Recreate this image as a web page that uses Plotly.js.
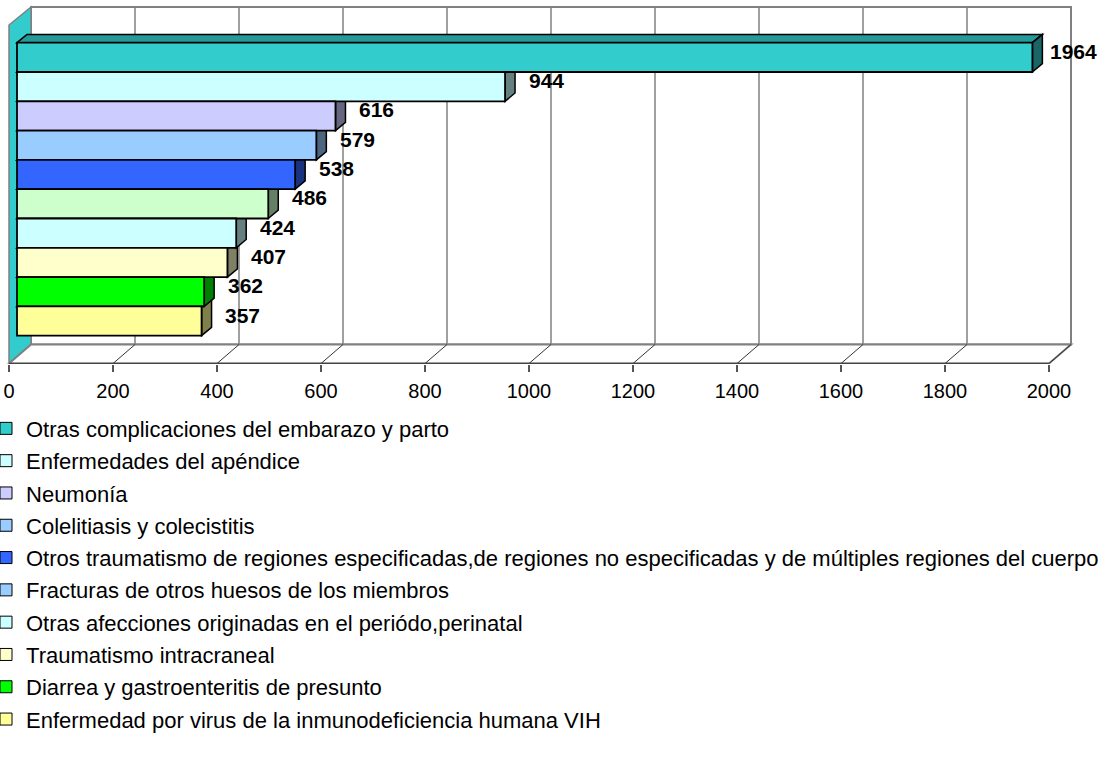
<!DOCTYPE html>
<html>
<head>
<meta charset="utf-8">
<script src="https://cdn.plot.ly/plotly-3.0.1.min.js"></script>
<style>html,body{margin:0;padding:0;background:#fff;}#chart{width:1107px;height:758px;}</style>
</head>
<body>
<div id="chart"></div>
<script>
// ---- data ----
const categories = [
  "Otras complicaciones del embarazo y parto",
  "Enfermedades del apéndice",
  "Neumonía",
  "Colelitiasis y colecistitis",
  "Otros traumatismo de regiones especificadas,de regiones no especificadas y de múltiples regiones del cuerpo",
  "Fracturas de otros huesos de los miembros",
  "Otras afecciones originadas en el periódo,perinatal",
  "Traumatismo intracraneal",
  "Diarrea y gastroenteritis de presunto",
  "Enfermedad por virus de la inmunodeficiencia humana VIH"
];
const values = [1964, 944, 616, 579, 538, 486, 424, 407, 362, 357];
const barColors = ["#33CCCC","#CCFFFF","#CCCCFF","#99CCFF","#3366FF","#CCFFCC","#CCFFFF","#FFFFCC","#00FF00","#FFFF99"];
const legendColors = ["#33CCCC","#CCFFFF","#CCCCFF","#99CCFF","#3366FF","#99CCFF","#CCFFFF","#FFFFCC","#00FF00","#FFFF99"];
const tickVals = [0,200,400,600,800,1000,1200,1400,1600,1800,2000];
const tickText = ["0","200","400","600","800","1000","1200","1400","1600","1800","2000"];

// ---- geometry (style) ----
const FONT = "Liberation Sans, Arial, sans-serif";
const L = 4, R = 1075, T = 4, B = 364;
const fx0 = 9, fk = 0.52;          // front axis pixel mapping
const bx0 = 17, bk = 0.517;        // bar plane pixel mapping
const rowTop = 57.35, rowH = 29.3; // row centers
const BX = 22 / fk;                // box depth in x units
const DX2 = 10 / bk, DYR = 8.3 / rowH; // bar depth
const Y = px => (px - rowTop) / rowH;
const rows = categories.map((c, i) => i);

function shade(hex, f) {
  const n = parseInt(hex.slice(1), 16);
  const r = Math.round(((n >> 16) & 255) * f), g = Math.round(((n >> 8) & 255) * f), b = Math.round((n & 255) * f);
  return "rgb(" + r + "," + g + "," + b + ")";
}

const shapes = [];
// back wall
shapes.push({type:"rect", xref:"x", yref:"y", x0:BX, x1:2000+BX, y0:Y(7), y1:Y(344.5),
  fillcolor:"#FFFFFF", line:{color:"#808080", width:2}, layer:"below"});
// back wall gridlines
tickVals.filter(v => v > 0 && v < 2000).forEach(v => shapes.push({type:"line", xref:"x", yref:"y",
  x0:v+BX, x1:v+BX, y0:Y(7), y1:Y(344.5), line:{color:"#808080", width:1.5}, layer:"below"}));
// left wall
shapes.push({type:"path", xref:"x", yref:"y",
  path:`M0,${Y(363.5)} L0,${Y(25)} L${BX},${Y(7)} L${BX},${Y(344.5)} Z`,
  fillcolor:"#33CCCC", line:{color:"#808080", width:1.5}, layer:"below"});
// floor
shapes.push({type:"path", xref:"x", yref:"y",
  path:`M0,${Y(363.5)} L2000,${Y(363.5)} L${2000+BX},${Y(344.5)} L${BX},${Y(344.5)} Z`,
  fillcolor:"#FFFFFF", line:{color:"#808080", width:2}, layer:"below"});
tickVals.filter(v => v > 0).forEach(v => shapes.push({type:"line", xref:"x", yref:"y",
  x0:v, x1:v+BX, y0:Y(363.5), y1:Y(344.5), line:{color:"#333333", width:1}, layer:"below"}));
shapes.push({type:"line", xref:"x", yref:"y", x0:0, x1:2000, y0:Y(363.5), y1:Y(363.5),
  line:{color:"#444444", width:1.5}, layer:"below"});

// bar depth faces (drawn from bottom row to top row)
for (let i = values.length - 1; i >= 0; i--) {
  const v = values[i], c = barColors[i], r = rows[i];
  shapes.push({type:"path", xref:"x2", yref:"y",
    path:`M0,${r-0.5} L${DX2},${r-0.5-DYR} L${v+DX2},${r-0.5-DYR} L${v},${r-0.5} Z`,
    fillcolor:shade(c,0.75), line:{color:"#000000", width:1.5}, layer:"below"});
  shapes.push({type:"path", xref:"x2", yref:"y",
    path:`M${v},${r-0.5} L${v+DX2},${r-0.5-DYR} L${v+DX2},${r+0.5-DYR} L${v},${r+0.5} Z`,
    fillcolor:shade(c,0.5), line:{color:"#000000", width:1.5}, layer:"below"});
}

const traces = [];
traces.push({type:"bar", orientation:"h", x:values, y:rows, xaxis:"x2", yaxis:"y", width:1,
  marker:{color:barColors, line:{color:"#000000", width:1.8}}, showlegend:false, hoverinfo:"skip"});
categories.forEach((c, i) => traces.push({type:"bar", orientation:"h", x:[null], y:[null],
  xaxis:"x", yaxis:"y", name:c, legendgroup:"g"+i,
  marker:{color:legendColors[i], line:{color:"#000000", width:1}}, hoverinfo:"skip"}));

const annotations = values.map((v, i) => ({xref:"x2", yref:"y", x:v, y:rows[i], text:String(v),
  showarrow:false, xanchor:"center", yanchor:"middle", xshift:41, yshift:6,
  font:{family:FONT, size:21, color:"#000000", weight:"bold"}}));

const layout = {
  width:1107, height:758,
  margin:{l:L, r:1107-R, t:T, b:758-B, pad:0, autoexpand:false},
  paper_bgcolor:"#FFFFFF", plot_bgcolor:"rgba(0,0,0,0)",
  font:{family:FONT, size:20, color:"#000000"},
  xaxis:{range:[(L-fx0)/fk, (R-fx0)/fk], tickvals:tickVals, ticktext:tickText, ticks:"outside",
    ticklen:7, tickwidth:1.5, tickcolor:"#555555", showgrid:false, zeroline:false, showline:false,
    ticklabelstandoff:2, tickfont:{family:FONT, size:20, color:"#000000"}, fixedrange:true},
  xaxis2:{overlaying:"x", range:[(L-bx0)/bk, (R-bx0)/bk], visible:false, fixedrange:true},
  yaxis:{range:[Y(B), Y(T)], visible:false, showgrid:false, zeroline:false, fixedrange:true},
  bargap:0,
  showlegend:true,
  legend:{x:-0.0168, xanchor:"left", y:-0.121, yanchor:"top", orientation:"v", traceorder:"grouped",
    tracegroupgap:0.7, bgcolor:"rgba(0,0,0,0)", borderwidth:0,
    font:{family:FONT, size:22, color:"#000000"}},
  shapes:shapes, annotations:annotations,
  hovermode:false
};
Plotly.newPlot("chart", traces, layout, {displayModeBar:false, staticPlot:true});
</script>
</body>
</html>
